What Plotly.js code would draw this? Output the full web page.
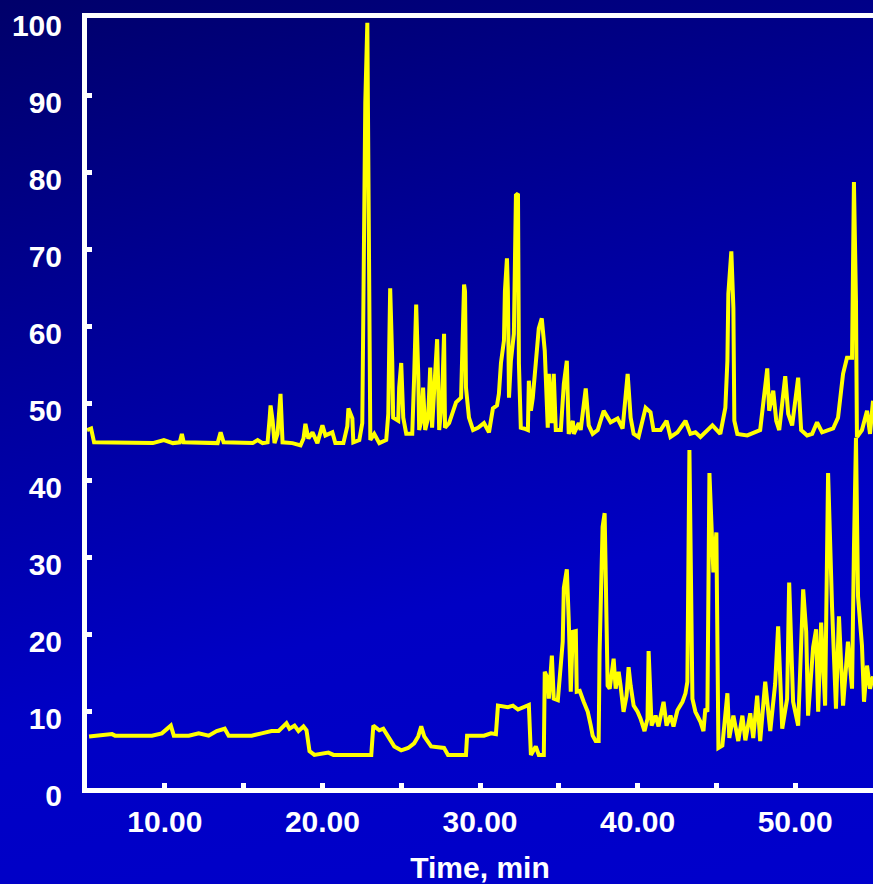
<!DOCTYPE html>
<html>
<head>
<meta charset="utf-8">
<script src="https://cdn.plot.ly/plotly-3.0.1.min.js"></script>
<style>
  html, body { margin: 0; padding: 0; }
  body {
    width: 873px; height: 884px; overflow: hidden;
    background: linear-gradient(165deg, #00006a 0%, #00009c 35%, #0000c4 65%, #0000cc 100%);
  }
  #chart { width: 873px; height: 884px; }
</style>
</head>
<body>
<div id="chart"></div>
<script>
// Upper chromatogram (time in min, relative intensity)
const upperTime = [5.06,5.32,5.51,7.09,9.24,9.94,10.51,10.95,11.08,11.20,12.59,13.35,13.54,13.73,15.57,15.89,16.20,16.52,16.65,16.71,16.84,16.96,17.15,17.22,17.34,17.47,18.10,18.61,18.80,18.92,19.11,19.37,19.68,20.00,20.19,20.63,20.82,21.33,21.58,21.65,21.90,21.96,22.34,22.53,22.59,22.66,22.72,22.85,22.91,22.97,23.04,23.29,23.61,24.05,24.18,24.24,24.30,24.43,24.49,24.81,24.87,25.00,25.13,25.32,25.70,25.82,25.95,26.08,26.14,26.27,26.39,26.52,26.71,26.84,26.96,27.09,27.28,27.41,27.59,27.72,27.78,28.04,28.29,28.48,28.80,28.92,28.99,29.05,29.11,29.30,29.56,29.87,30.25,30.57,30.82,31.08,31.20,31.33,31.52,31.58,31.71,31.77,31.84,31.96,32.15,32.28,32.41,32.47,32.59,32.78,33.04,33.10,33.23,33.35,33.48,33.73,33.92,33.99,34.11,34.30,34.37,34.56,34.68,34.81,35.13,35.32,35.51,35.63,35.89,35.95,36.27,36.39,36.71,36.90,37.15,37.47,37.85,38.29,38.73,39.05,39.37,39.56,39.75,40.06,40.51,40.82,41.01,41.46,41.84,42.09,42.53,43.04,43.35,43.67,43.99,44.75,45.25,45.57,45.70,45.76,45.95,46.08,46.14,46.33,46.96,47.78,47.97,48.23,48.35,48.61,48.80,48.99,49.37,49.56,49.81,50.19,50.38,50.76,51.08,51.39,51.71,52.41,52.72,53.04,53.29,53.61,53.73,53.86,53.92,54.24,54.56,54.75,54.94];
const upperSignal = [46.5,46.7,44.9,44.9,44.8,45.2,44.8,44.9,46.0,44.9,44.9,44.8,46.2,44.9,44.8,45.2,44.8,44.9,48.0,49.7,47.7,44.8,46.0,48.6,51.2,44.9,44.8,44.5,45.4,47.3,45.4,46.2,44.8,47.1,45.8,46.2,44.8,44.8,47.0,49.3,48.0,44.9,45.2,47.4,61.7,78.7,89.0,99.4,74.0,70.0,45.2,46.0,44.8,45.2,48.6,57.2,64.9,55.5,48.1,47.7,52.0,55.2,48.1,46.0,46.0,53.3,62.8,53.8,46.5,47.7,52.0,46.5,48.1,54.6,46.8,51.6,58.3,46.5,50.3,59.0,46.8,47.4,49.0,50.1,50.7,57.7,65.4,64.5,52.0,48.1,46.5,46.8,47.4,46.2,49.3,49.7,51.2,55.2,58.1,64.5,68.8,64.5,50.7,55.5,59.0,77.0,77.2,55.1,46.8,46.7,46.5,52.9,49.0,50.7,54.2,59.7,61.0,59.0,56.8,46.8,53.8,47.4,53.8,46.5,46.5,52.5,55.5,46.0,47.7,46.0,47.4,46.5,51.9,47.1,46.0,46.5,49.0,47.5,48.0,46.7,53.8,48.1,46.0,45.6,49.4,48.8,46.5,46.5,47.7,45.6,46.2,47.7,46.0,46.2,45.6,47.1,46.0,49.4,55.5,64.2,69.7,62.3,47.7,46.0,45.8,46.5,49.9,54.5,49.0,51.6,47.7,46.5,53.5,48.6,47.1,53.3,46.5,45.8,46.0,47.5,46.2,46.7,48.1,53.8,55.9,55.9,78.7,63.2,45.6,46.5,49.0,46.0,50.3];

// Lower chromatogram
const lowerTime = [5.19,6.65,6.84,9.18,9.81,10.38,10.57,11.52,12.15,12.78,13.29,13.80,14.05,15.51,16.14,16.77,17.22,17.72,17.91,18.23,18.48,18.80,18.99,19.18,19.49,20.38,20.70,23.10,23.23,23.61,23.86,24.18,24.56,25.00,25.44,25.82,26.08,26.27,26.46,26.90,27.34,27.72,27.97,29.11,29.18,30.25,30.70,31.01,31.14,31.77,32.09,32.41,33.10,33.23,33.54,33.73,34.05,34.11,34.30,34.37,34.56,34.68,34.94,35.06,35.25,35.32,35.51,35.63,35.76,35.89,36.08,36.14,36.33,36.58,36.84,37.03,37.15,37.34,37.53,37.59,37.78,37.91,38.04,38.10,38.23,38.48,38.61,38.80,38.92,39.11,39.30,39.43,39.56,39.75,40.00,40.19,40.44,40.63,40.70,40.89,41.14,41.33,41.65,41.84,42.09,42.28,42.53,42.85,43.04,43.16,43.29,43.48,43.67,43.99,44.18,44.30,44.43,44.56,44.81,45.00,45.13,45.38,45.70,45.82,46.08,46.39,46.65,46.84,47.15,47.34,47.59,47.78,48.10,48.42,48.73,48.92,49.18,49.49,49.62,49.87,50.19,50.32,50.51,50.70,50.82,51.14,51.33,51.46,51.65,51.90,52.09,52.34,52.59,52.78,53.04,53.35,53.61,53.73,53.86,53.99,54.24,54.37,54.56,54.75,54.94];
const lowerSignal = [6.7,7.0,6.8,6.8,7.1,8.1,6.8,6.8,7.1,6.8,7.4,7.7,6.8,6.8,7.1,7.4,7.4,8.4,7.7,8.1,7.4,8.0,7.5,4.8,4.3,4.6,4.3,4.3,8.1,7.5,7.7,6.7,5.4,4.9,5.2,5.8,6.7,8.0,6.7,5.4,5.3,5.2,4.3,4.3,6.8,6.8,7.1,7.0,10.7,10.5,10.7,10.2,10.8,4.3,5.4,4.3,4.3,15.1,14.2,11.6,17.2,11.6,11.4,14.2,19.0,26.0,28.4,21.9,12.5,20.3,20.4,12.5,12.6,11.2,9.9,8.1,6.8,6.1,6.1,17.7,33.9,35.7,21.9,13.3,12.9,16.8,12.9,15.1,13.3,9.9,12.0,15.7,13.3,10.7,9.9,9.0,7.4,9.0,17.8,8.1,9.4,8.0,11.2,8.1,9.4,8.0,10.1,11.2,12.3,13.8,43.9,11.6,9.9,8.6,7.4,10.3,9.9,40.9,28.0,33.2,5.2,5.5,12.3,6.5,9.4,6.1,9.4,6.2,9.7,6.5,12.0,6.1,13.8,7.4,13.5,21.0,7.7,11.6,26.7,11.2,8.1,16.8,25.8,20.3,9.4,18.3,20.6,9.9,21.5,10.7,40.9,23.6,10.3,22.3,10.7,19.0,12.9,31.0,45.5,24.9,18.5,11.2,15.9,12.9,14.5];

const xTickVals = [10,15,20,25,30,35,40,45,50];
const xTickText = ['10.00','','20.00','','30.00','','40.00','','50.00'];
const yTickVals = [0,10,20,30,40,50,60,70,80,90,100];

const lineStyle = {color: '#ffff00', width: 4};
const traces = [
  {x: upperTime, y: upperSignal, type: 'scatter', mode: 'lines', line: lineStyle, hoverinfo: 'skip'},
  {x: lowerTime, y: lowerSignal, type: 'scatter', mode: 'lines', line: lineStyle, hoverinfo: 'skip'}
];

const fontFam = '"Liberation Sans", Arial, sans-serif';
const tickFont = {family: fontFam, size: 30, color: '#ffffff', weight: 'bold'};

const layout = {
  width: 873, height: 884,
  margin: {l: 87, r: 0, t: 18, b: 96},
  paper_bgcolor: 'rgba(0,0,0,0)',
  plot_bgcolor: 'rgba(0,0,0,0)',
  showlegend: false,
  xaxis: {
    range: [5.06, 54.94],
    showgrid: false, zeroline: false,
    showline: true, linecolor: '#ffffff', linewidth: 5, mirror: true,
    ticks: 'inside', tickcolor: '#ffffff', tickwidth: 5, ticklen: 5,
    tickmode: 'array', tickvals: xTickVals, ticktext: xTickText,
    tickfont: tickFont, ticklabelstandoff: 3,
    title: {text: 'Time, min', font: {family: fontFam, size: 30, color: '#ffffff', weight: 'bold'}, standoff: 26}
  },
  yaxis: {
    range: [0, 100.02],
    showgrid: false, zeroline: false,
    showline: true, linecolor: '#ffffff', linewidth: 5, mirror: false,
    ticks: 'inside', tickcolor: '#ffffff', tickwidth: 5, ticklen: 5,
    tickmode: 'array', tickvals: yTickVals,
    tickfont: tickFont, ticklabelstandoff: 14,
    ticklabelshift: 7, ticklabeloverflow: 'allow'
  }
};

Plotly.newPlot('chart', traces, layout, {displayModeBar: false, staticPlot: true});
</script>
</body>
</html>
